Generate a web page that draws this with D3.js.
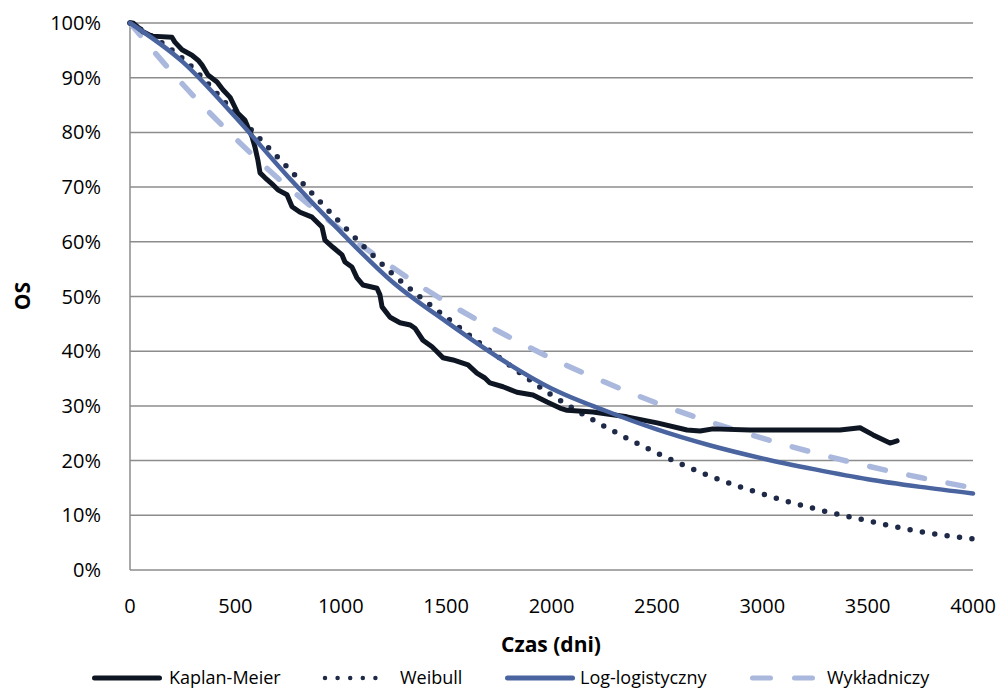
<!DOCTYPE html>
<html>
<head>
<meta charset="utf-8">
<script src="https://cdn.jsdelivr.net/npm/d3@7"></script>
<style>
  body { margin: 0; background: #fff; }
  svg text { font-family: "Open Sans", "Noto Sans", sans-serif; fill: #000; }
</style>
</head>
<body>
<svg id="chart" width="1000" height="688"></svg>
<script>
// Kaplan-Meier curve (days, OS %)
const kmDays = [0, 14, 62, 104, 199, 213, 247, 294, 323, 342, 370, 413, 441, 475, 498, 512, 546, 560, 579, 593, 607, 617, 641, 679, 702, 745, 769, 807, 864, 911, 925, 963, 1006, 1020, 1053, 1077, 1106, 1172, 1186, 1196, 1234, 1281, 1330, 1352, 1390, 1433, 1457, 1485, 1533, 1604, 1646, 1684, 1708, 1770, 1836, 1912, 1979, 2040, 2074, 2197, 2358, 2501, 2643, 2705, 2766, 2942, 3369, 3464, 3526, 3606, 3640];
const kmSurv = [100, 100, 98.4, 97.6, 97.4, 96.5, 95.1, 94.1, 93.2, 92.3, 90.5, 89.2, 87.8, 86.4, 84.6, 83.5, 82.2, 80.9, 79.2, 77.3, 74.9, 72.6, 71.7, 70.4, 69.5, 68.6, 66.4, 65.4, 64.5, 62.7, 60.3, 59.0, 57.6, 56.3, 55.4, 53.4, 52.1, 51.5, 50.3, 48.1, 46.2, 45.2, 44.8, 44.2, 42.0, 40.8, 39.9, 38.8, 38.4, 37.5, 36.0, 35.1, 34.2, 33.5, 32.5, 32.0, 30.7, 29.6, 29.2, 28.9, 28.0, 26.9, 25.6, 25.4, 25.8, 25.6, 25.6, 26.0, 24.7, 23.2, 23.6];

// fitted models, read every 250 days
const fitDays = [0, 250, 500, 750, 1000, 1250, 1500, 1750, 2000, 2250, 2500, 2750, 3000, 3250, 3500, 3750, 4000];
const weibull = [100, 93.5, 83.5, 73.5, 63.4, 54.0, 46.2, 38.9, 32.0, 26.3, 21.4, 17.2, 13.9, 11.2, 9.0, 7.0, 5.7];
const logLogistic = [100, 92.9, 82.8, 71.9, 61.8, 52.5, 45.4, 38.8, 33.2, 29.2, 25.7, 22.8, 20.4, 18.4, 16.6, 15.2, 14.0];
const exponential = [100, 88.8, 78.9, 70.0, 62.2, 55.2, 49.0, 43.6, 38.7, 34.4, 30.5, 27.1, 24.1, 21.4, 19.0, 16.9, 15.0];

const xTicks = [0, 500, 1000, 1500, 2000, 2500, 3000, 3500, 4000];
const yTicks = [0, 10, 20, 30, 40, 50, 60, 70, 80, 90, 100];

const seriesNames = ["Kaplan-Meier", "Weibull", "Log-logistyczny", "Wykładniczy"];
const styles = {
  "Kaplan-Meier": { color: "#0f1623", width: 5, dash: null },
  "Weibull": { color: "#1f2a48", width: 5.5, dash: "0 12.5" },
  "Log-logistyczny": { color: "#4a64a0", width: 4.5, dash: null },
  "Wykładniczy": { color: "#a9b8dc", width: 5.5, dash: "16 24" }
};

const svg = d3.select("#chart");
const x = d3.scaleLinear().domain([0, 4000]).range([130, 973]);
const y = d3.scaleLinear().domain([0, 100]).range([570, 23]);

// gridlines
svg.append("g")
  .selectAll("line")
  .data(yTicks)
  .join("line")
  .attr("x1", 130).attr("x2", 973)
  .attr("y1", d => y(d)).attr("y2", d => y(d))
  .attr("stroke", "#8c8c8c")
  .attr("stroke-width", 1.5);

svg.append("line")
  .attr("x1", 130).attr("x2", 130)
  .attr("y1", y(100)).attr("y2", y(0))
  .attr("stroke", "#8c8c8c")
  .attr("stroke-width", 1.5);

// tick labels
svg.append("g")
  .selectAll("text")
  .data(yTicks)
  .join("text")
  .attr("x", 101)
  .attr("y", d => y(d) + 7)
  .attr("text-anchor", "end")
  .style("font-size", "20px")
  .text(d => d + "%");

svg.append("g")
  .selectAll("text")
  .data(xTicks)
  .join("text")
  .attr("x", d => x(d))
  .attr("y", 613)
  .attr("text-anchor", "middle")
  .style("font-size", "20px")
  .text(d => d);

svg.append("text")
  .attr("x", 551).attr("y", 652)
  .attr("text-anchor", "middle")
  .style("font-size", "21px").style("font-weight", "bold")
  .text("Czas (dni)");

svg.append("text")
  .attr("transform", "translate(30,296) rotate(-90)")
  .attr("text-anchor", "middle")
  .style("font-size", "21px").style("font-weight", "bold")
  .text("OS");

// curves
const line = d3.line()
  .x(d => x(d[0]))
  .y(d => y(d[1]));

const smooth = d3.line()
  .x(d => x(d[0]))
  .y(d => y(d[1]))
  .curve(d3.curveMonotoneX);

function drawPath(data, name, gen) {
  const s = styles[name];
  const p = svg.append("path")
    .datum(data)
    .attr("d", gen)
    .attr("fill", "none")
    .attr("stroke", s.color)
    .attr("stroke-width", s.width)
    .attr("stroke-linecap", "round")
    .attr("stroke-linejoin", "round");
  if (s.dash) p.attr("stroke-dasharray", s.dash);
}

drawPath(fitDays.map((d, i) => [d, exponential[i]]), "Wykładniczy", smooth);
drawPath(fitDays.map((d, i) => [d, weibull[i]]), "Weibull", smooth);
drawPath(kmDays.map((d, i) => [d, kmSurv[i]]), "Kaplan-Meier", line);
drawPath(fitDays.map((d, i) => [d, logLogistic[i]]), "Log-logistyczny", smooth);

// legend
const legendX = [94.5, 325, 507.5, 752.5];
const legendW = [65, 63, 65, 60];
const textX = [169, 400, 580, 827];
const legend = svg.append("g")
  .selectAll("g")
  .data(seriesNames)
  .join("g")
  .attr("transform", "translate(0,678)");

legend.append("line")
  .attr("x1", (d, i) => legendX[i]).attr("x2", (d, i) => legendX[i] + legendW[i])
  .attr("stroke", d => styles[d].color)
  .attr("stroke-width", d => d == "Weibull" ? 4.5 : 5)
  .attr("stroke-linecap", "round")
  .attr("stroke-dasharray", d => d == "Weibull" ? "0 12.6" : (d == "Wykładniczy" ? "18 24" : null));

legend.append("text")
  .attr("x", (d, i) => textX[i])
  .attr("y", 6)
  .style("font-size", "18px")
  .text(d => d);
</script>
</body>
</html>
